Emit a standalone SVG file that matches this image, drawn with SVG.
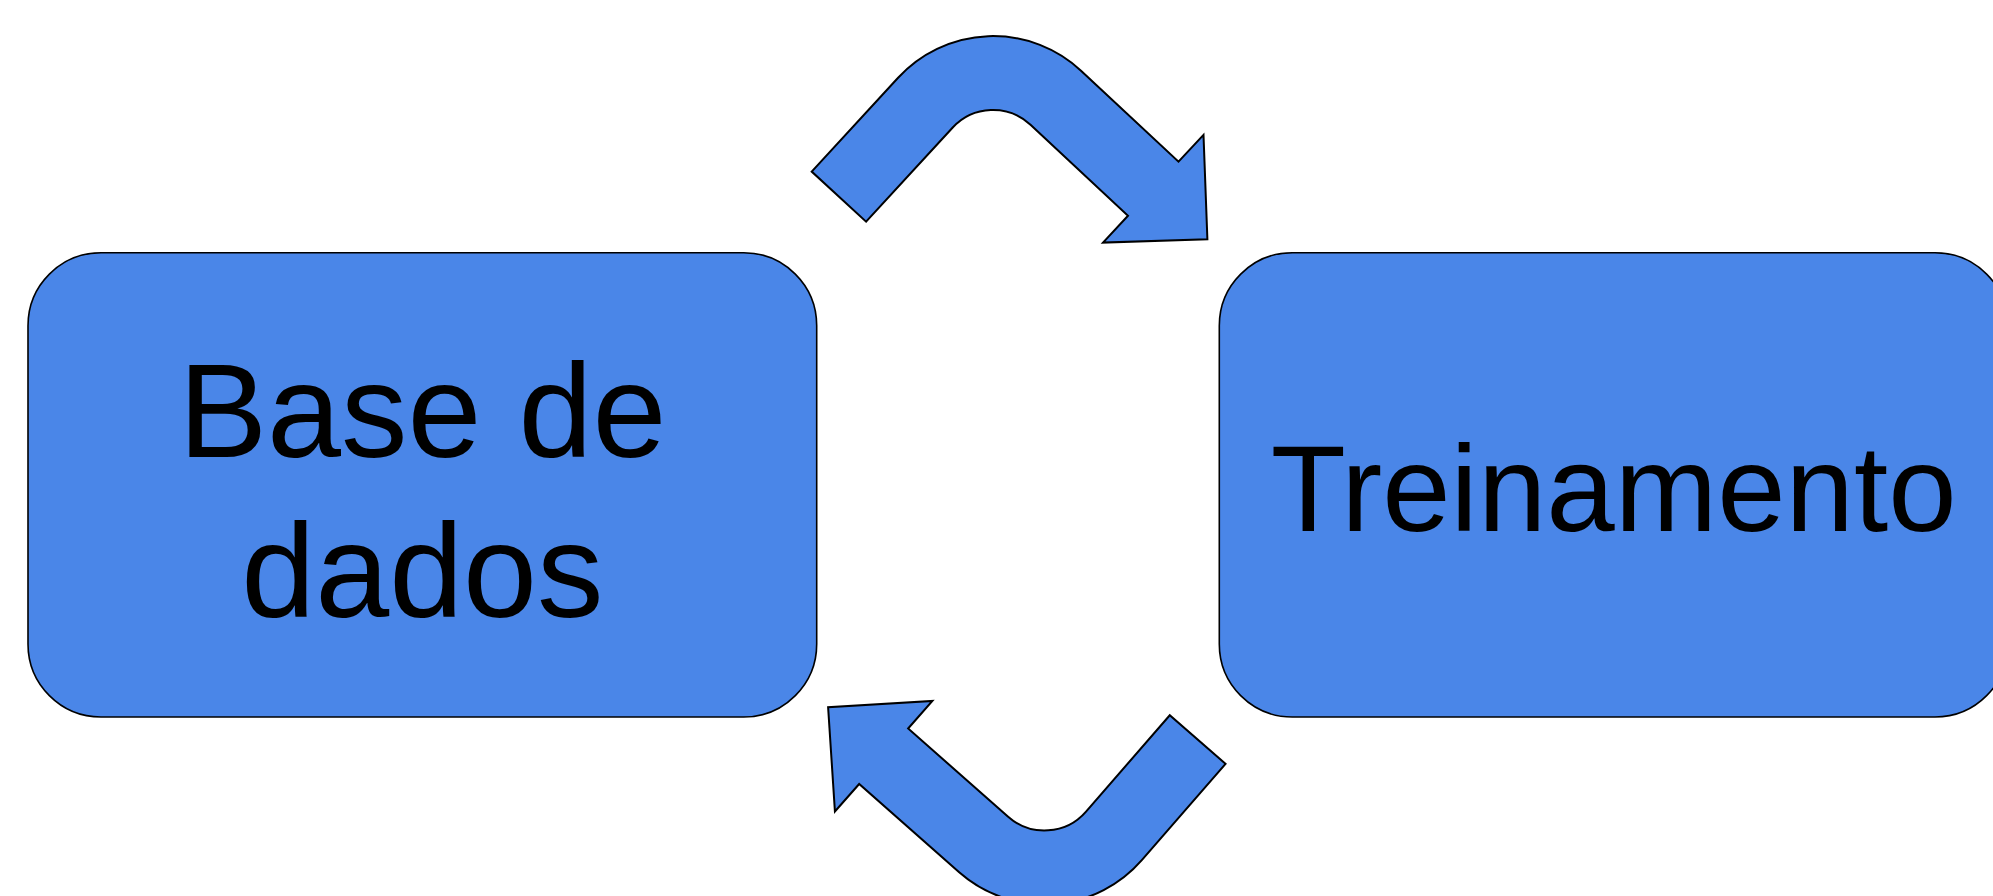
<svg xmlns="http://www.w3.org/2000/svg" width="1993" height="896" viewBox="0 0 1993 896">
<style>
.box{fill:#4a86e8;stroke:#000;stroke-width:1.6}
.arrow{fill:#4a86e8;stroke:#000;stroke-width:2;stroke-linejoin:miter}
.lbl{font-family:"Liberation Sans",Arial,sans-serif;fill:#000;text-anchor:middle}
</style>
<rect width="1993" height="896" fill="#fff"/>
<g id="connectors">
<path id="arrow-top" class="arrow" d="M811.7,171.6 L898.1,77.7 A129,129 0 0 1 1081,70.7 L1178.5,161.7 L1203.5,134.9 L1207.4,239.3 L1103,242.6 L1128,215.8 L1030.5,124.8 A55,55 0 0 0 952.5,127.8 L866.1,221.7 Z"/>
<path id="arrow-bottom" class="arrow" transform="translate(1044.5,775.5) rotate(178.4) translate(-993,-165)" d="M811.7,171.6 L898.1,77.7 A129,129 0 0 1 1081,70.7 L1178.5,161.7 L1203.5,134.9 L1207.4,239.3 L1103,242.6 L1128,215.8 L1030.5,124.8 A55,55 0 0 0 952.5,127.8 L866.1,221.7 Z"/>
</g>
<g id="node-base-de">
<rect class="box" x="28" y="252.7" width="788.7" height="464.3" rx="73" ry="73"/>
<text class="lbl" x="422.4" y="456.7" font-size="133">Base de</text>
<text class="lbl" x="422.4" y="616.7" font-size="133">dados</text>
</g>
<g id="node-treinamento">
<rect class="box" x="1219.3" y="252.7" width="788.7" height="464.3" rx="73" ry="73"/>
<text class="lbl" x="1613.6" y="531" font-size="123">Treinamento</text>
</g>
</svg>
